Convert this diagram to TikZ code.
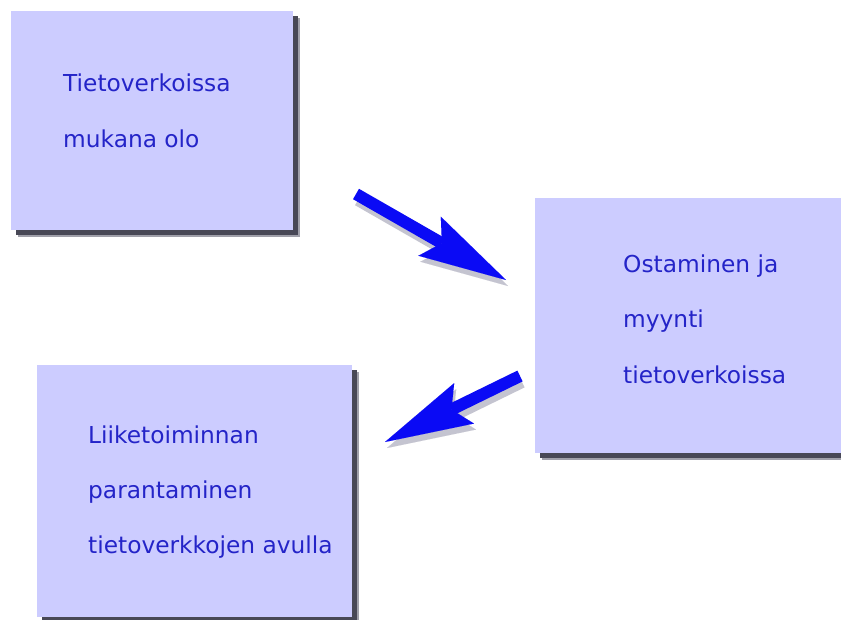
\documentclass[tikz,border=0pt]{standalone}
\usepackage{fontspec}
\setmainfont{DejaVu Sans}
\usetikzlibrary{arrows.meta,shadows}
\definecolor{boxfill}{RGB}{204,204,255}
\definecolor{txt}{RGB}{36,36,200}
\definecolor{arr}{RGB}{10,10,245}
\definecolor{arrshadow}{RGB}{196,196,208}
\definecolor{shadowdark}{RGB}{72,72,86}
\definecolor{shadowlight}{RGB}{160,160,170}
\begin{document}
\begin{tikzpicture}[x=1pt,y=-1pt,
  box/.style={fill=boxfill, inner sep=0pt, outer sep=0pt, anchor=north west,
    drop shadow={shadow xshift=7pt, shadow yshift=-7pt, fill=shadowlight, opacity=1},
    drop shadow={shadow xshift=4.5pt, shadow yshift=-5pt, fill=shadowdark, opacity=1}},
  lbl/.style={text=txt, font=\fontsize{23.3}{28}\selectfont, anchor=base west, inner sep=0pt},
  flow/.style={draw=arr, line width=12pt,
    -{Stealth[length=88pt,width=45pt,inset=14pt,line width=0.01pt]}},
  flowshadow/.style={draw=arrshadow, line width=12pt,
    -{Stealth[length=88pt,width=45pt,inset=14pt,line width=0.01pt]}},
  ]
\fill[white] (0,0) rectangle (841,619);
\useasboundingbox (0,0) rectangle (841,619);

\node[box, minimum width=282pt, minimum height=219pt] (b1) at (11,11) {};
\node[box, minimum width=320pt, minimum height=255pt] (b2) at (535,198) {};
\node[box, minimum width=315pt, minimum height=252pt] (b3) at (37,365) {};

\node[lbl] (t1a) at (63,91) {Tietoverkoissa};
\node[lbl] (t1b) at (63,147) {mukana olo};

\node[lbl] (t2a) at (623,272) {Ostaminen ja};
\node[lbl] (t2b) at (623,327) {myynti};
\node[lbl] (t2c) at (623,383) {tietoverkoissa};

\node[lbl] (t3a) at (88,443) {Liiketoiminnan};
\node[lbl] (t3b) at (88,498) {parantaminen};
\node[lbl] (t3c) at (88,553) {tietoverkkojen avulla};

\coordinate (a1s) at (356,194);
\coordinate (a1e) at (506,280);
\coordinate (a2s) at (520,376);
\coordinate (a2e) at (385,442);

\draw[flowshadow] ([shift={(2,6)}]a1s) -- ([shift={(2,6)}]a1e);
\draw[flowshadow] ([shift={(2,6)}]a2s) -- ([shift={(2,6)}]a2e);
\draw[flow] (a1s) -- (a1e);
\draw[flow] (a2s) -- (a2e);
\end{tikzpicture}
\end{document}
